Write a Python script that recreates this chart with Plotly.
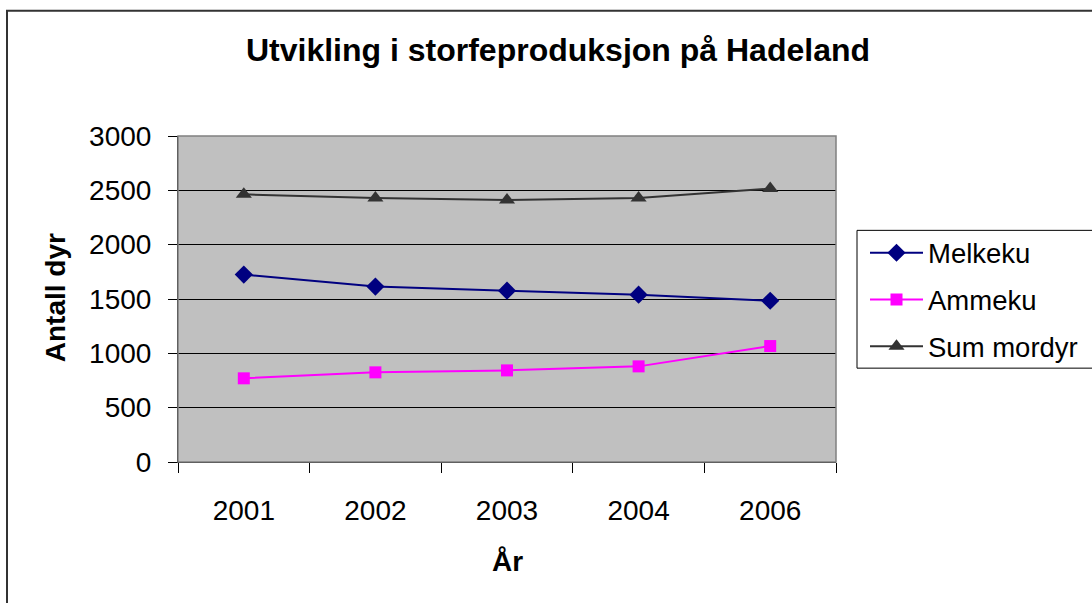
import plotly.graph_objects as go

years = ["2001", "2002", "2003", "2004", "2006"]
melkeku = [1725, 1614, 1577, 1540, 1484]
ammeku = [770, 825, 843, 880, 1067]
sum_mordyr = [2463, 2429, 2411, 2429, 2516]

FONT = "Liberation Sans, Arial, sans-serif"

W, H = 1092, 603
L, R, T, B = 178, 836, 135.5, 462
pw, ph = R - L, B - T

def px(x):
    return (x - L) / pw

def py(y):
    return (B - y) / ph

fig = go.Figure()
fig.add_trace(go.Scatter(x=years, y=melkeku, name="Melkeku", mode="lines+markers",
                         legendgroup="a",
                         line=dict(color="#000080", width=2),
                         marker=dict(symbol="diamond", size=14, color="#000080")))
fig.add_trace(go.Scatter(x=years, y=ammeku, name="Ammeku", mode="lines+markers",
                         legendgroup="b",
                         line=dict(color="#FF00FF", width=2),
                         marker=dict(symbol="square", size=12, color="#FF00FF")))
fig.add_trace(go.Scatter(x=years, y=sum_mordyr, name="Sum mordyr", mode="lines+markers",
                         legendgroup="c",
                         line=dict(color="#333333", width=2),
                         marker=dict(symbol="triangle-up", size=14, color="#333333")))

fig.update_layout(
    width=W, height=H,
    margin=dict(l=L, r=W - R, t=T, b=H - B, autoexpand=False),
    paper_bgcolor="white",
    plot_bgcolor="#C0C0C0",
    font=dict(family=FONT, color="black", size=27),
    title=dict(text="<b>Utvikling i storfeproduksjon på Hadeland</b>",
               x=558 / W, xanchor="center", y=1 - 50 / H, yanchor="middle",
               font=dict(size=32, family=FONT, color="black")),
    xaxis=dict(type="category", showgrid=False, showline=True, linecolor="black", linewidth=1,
               ticks="outside", ticklen=10, tickcolor="black", tickson="boundaries",
               tickfont=dict(size=28), ticklabelstandoff=23, range=[-0.5, 4.5]),
    yaxis=dict(range=[0, 3000], dtick=500, showgrid=True, gridcolor="black", gridwidth=1,
               showline=True, linecolor="black", linewidth=1, zeroline=False,
               ticks="outside", ticklen=9, tickcolor="black",
               tickfont=dict(size=28), ticklabelstandoff=11),
    legend=dict(x=px(865), y=py(228), xanchor="left", yanchor="top",
                bgcolor="rgba(0,0,0,0)", borderwidth=0,
                tracegroupgap=8, itemwidth=53,
                font=dict(size=27.5, family=FONT, color="black")),
    showlegend=True,
)

fig.add_annotation(text="<b>År</b>", x=px(507), y=py(562), xref="paper", yref="paper",
                   showarrow=False, font=dict(size=28, family=FONT, color="black"),
                   xanchor="center", yanchor="middle")
fig.add_annotation(text="<b>Antall dyr</b>", x=px(55), y=py(297), xref="paper", yref="paper",
                   showarrow=False, textangle=-90, font=dict(size=28, family=FONT, color="black"),
                   xanchor="center", yanchor="middle")

# legend box (extends past the right edge, as in the reference)
fig.add_shape(type="rect", xref="paper", yref="paper",
              x0=px(857), x1=px(1120), y0=py(368), y1=py(230),
              line=dict(color="black", width=1), fillcolor="white", layer="below")
# plot area border (grey)
fig.add_shape(type="rect", xref="paper", yref="paper", x0=0, x1=1, y0=0, y1=1,
              line=dict(color="#808080", width=1.5), layer="above")
# outer chart border
fig.add_shape(type="rect", xref="paper", yref="paper",
              x0=px(7), x1=px(1110), y0=py(620), y1=py(10),
              line=dict(color="#333333", width=2), layer="above")

fig.write_html("out.html", config={"displayModeBar": False},
               post_script="document.body.style.margin='0';document.body.style.overflow='hidden';")
